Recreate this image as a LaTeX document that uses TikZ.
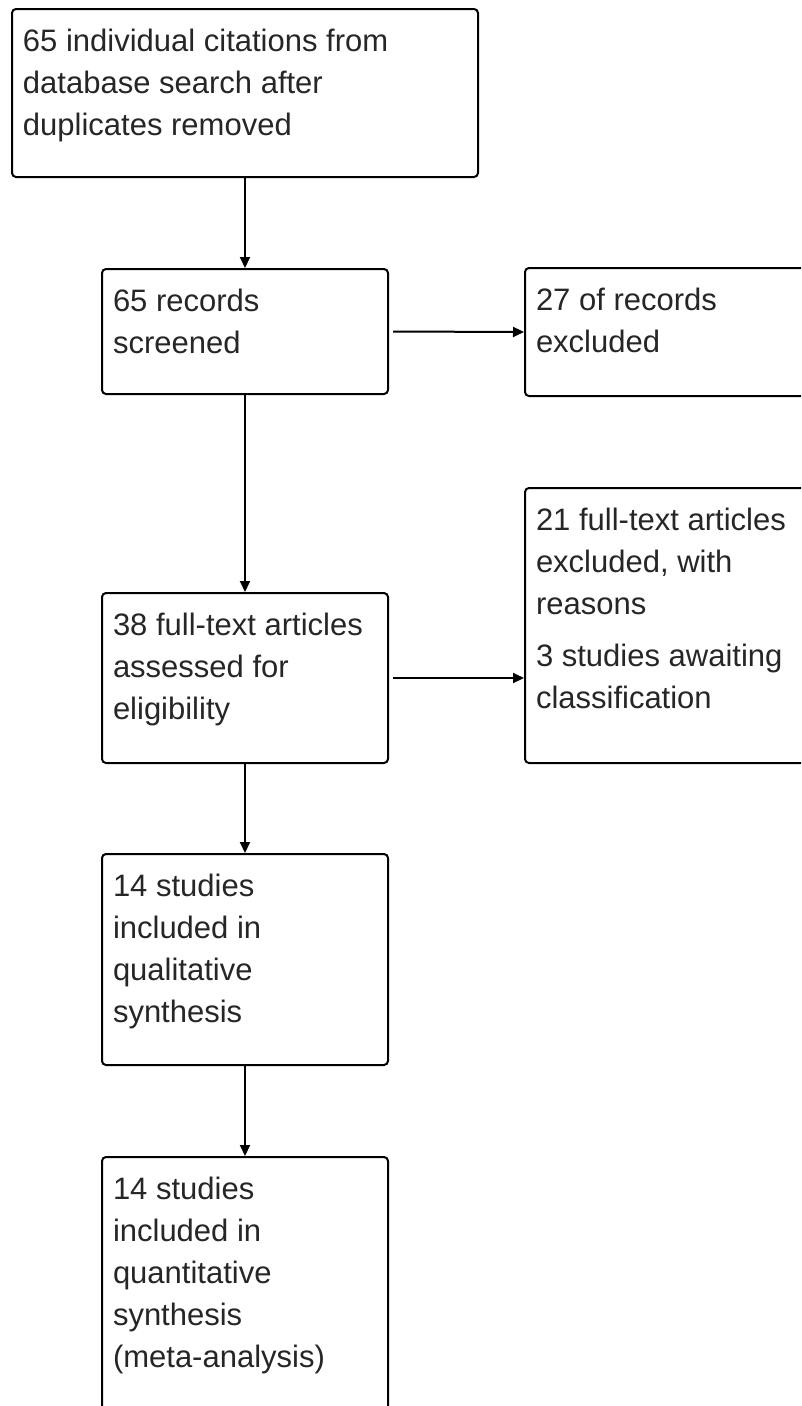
\documentclass[tikz,border=0pt]{standalone}
\usepackage{fontspec}
\setmainfont{Liberation Sans}
\usetikzlibrary{arrows.meta}
\newcommand{\stagetext}[3]{\parbox[t][#2][t]{#1}{\fontsize{31}{42}\selectfont\raggedright\strut #3}}
\begin{document}
\begin{tikzpicture}[x=1pt,y=-1pt,
  stage/.style={draw, line width=2pt, rounded corners=4pt, anchor=north, inner xsep=11pt, inner ysep=13pt, text=black!85},
  flow/.style={draw, line width=2pt, -{Triangle[length=11pt,width=10pt]}}]
\clip (0,0) rectangle (801,1406);
\node[stage] (1) at (245,8) {\stagetext{444pt}{142pt}{65 individual citations from\\database search after\\duplicates removed}};
\node[stage] (2) at (245,268) {\stagetext{264pt}{99pt}{65 records\\screened}};
\node[stage] (3) at (668,267) {\stagetext{264pt}{102pt}{27 of records\\excluded}};
\node[stage] (4) at (245,592) {\stagetext{264pt}{144pt}{38 full-text articles\\assessed for\\eligibility}};
\node[stage] (5) at (668,487) {\stagetext{264pt}{249pt}{21 full-text articles\\excluded, with\\reasons\\[10pt]3 studies awaiting\\classification}};
\node[stage] (6) at (245,853) {\stagetext{264pt}{185pt}{14 studies\\included in\\qualitative\\synthesis}};
\node[stage] (7) at (245,1156) {\stagetext{264pt}{244pt}{14 studies\\included in\\quantitative\\synthesis\\(meta-analysis)}};

\path[flow] (1) -- (2);
\path[flow] (2) -- (4);
\path[flow] (4) -- (6);
\path[flow] (6) -- (7);
\path[flow,shorten <=4pt] (2.east) -- (3.west);
\path[flow,shorten <=4pt] (4.east) -- (4.east -| 5.west);
\end{tikzpicture}
\end{document}
